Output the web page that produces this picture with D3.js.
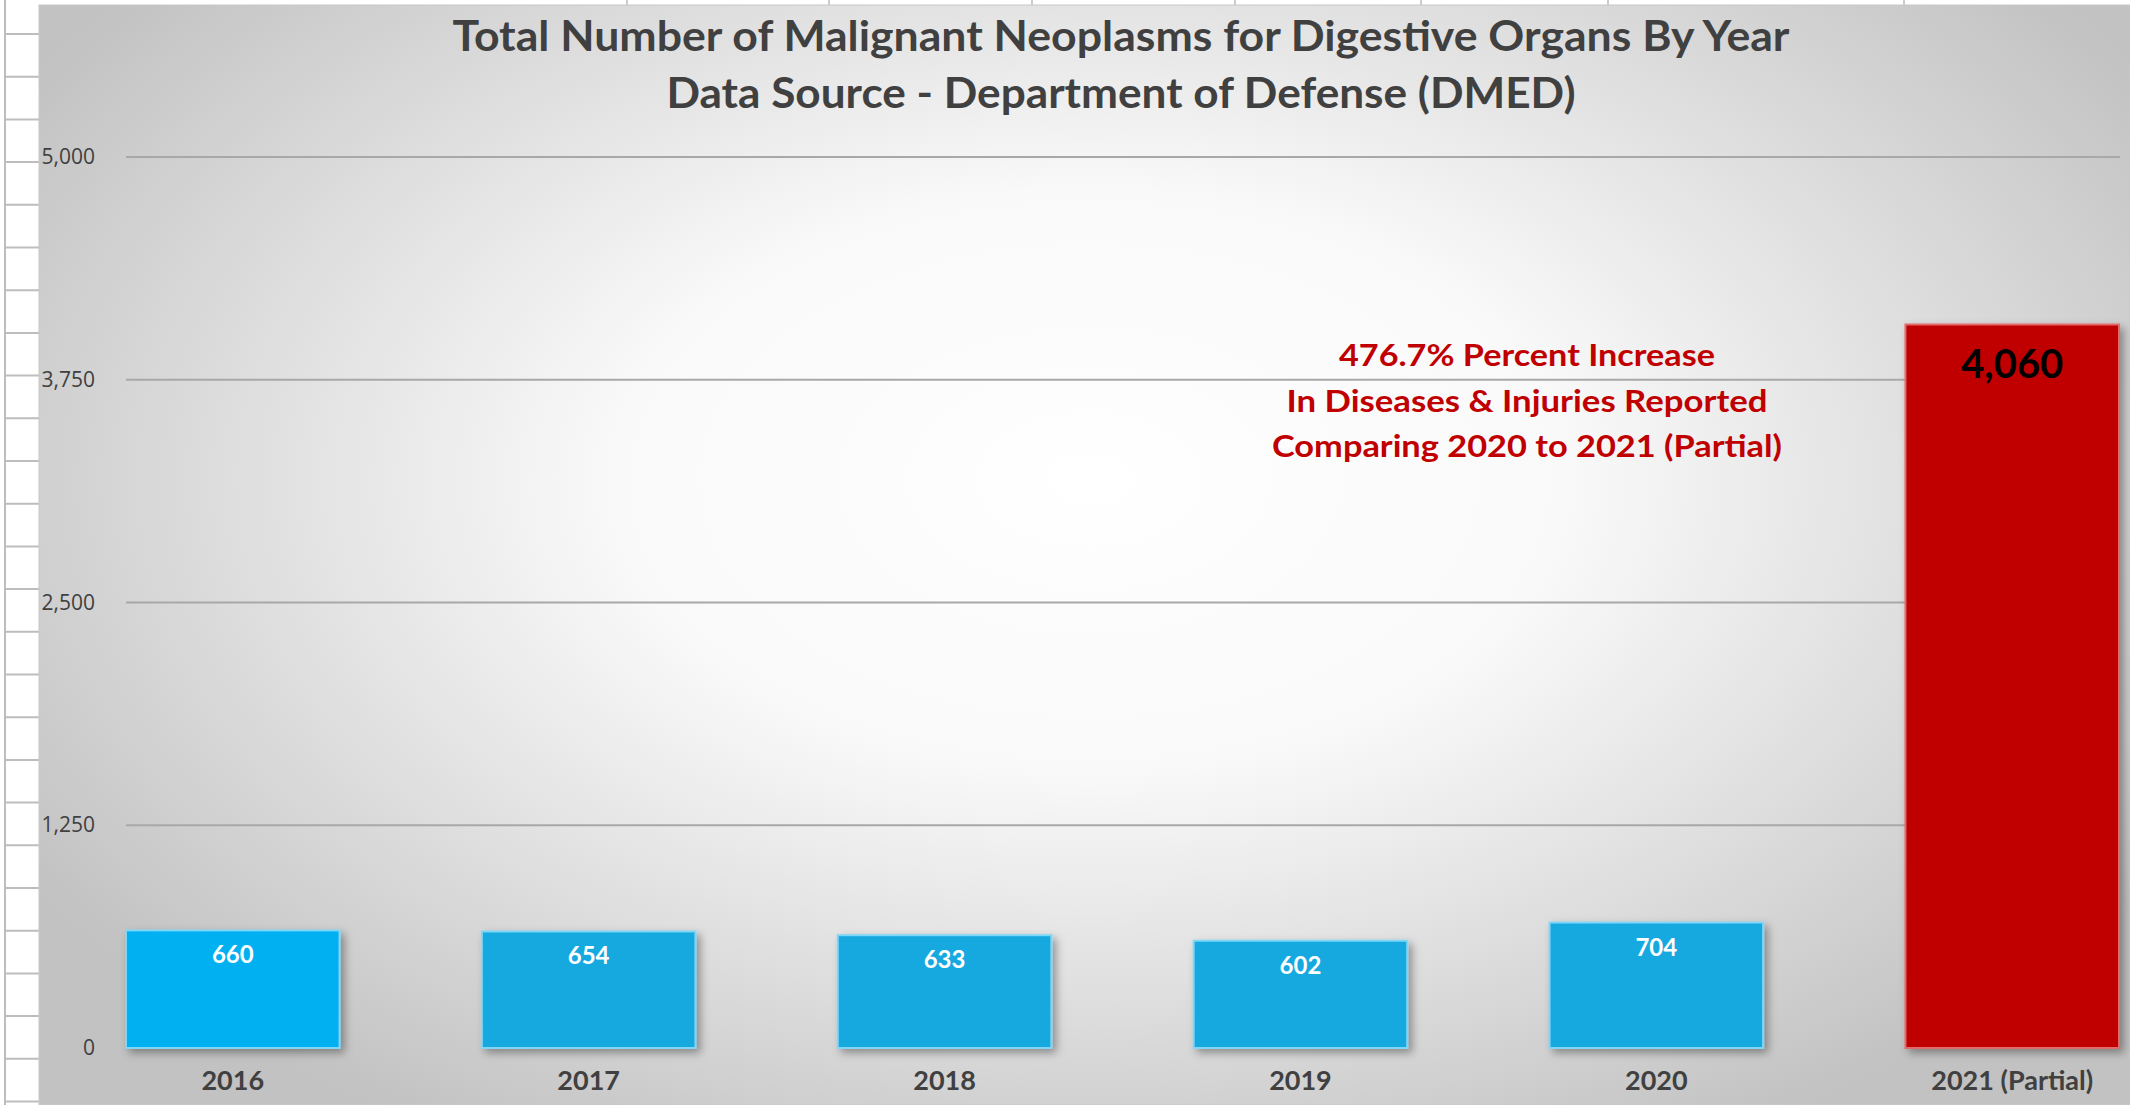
<!DOCTYPE html>
<html lang="en">
<head>
<meta charset="UTF-8">
<title>Malignant Neoplasms for Digestive Organs</title>
<style>
  * { margin: 0; padding: 0; }
  body { background: #fff; overflow: hidden; }
</style>
</head>
<body>
<div id="container"></div>
<script src="https://cdn.jsdelivr.net/npm/d3@7"></script>
<script>
var years = ['2016', '2017', '2018', '2019', '2020', '2021 (Partial)'],
    counts = [660, 654, 633, 602, 704, 4060],
    yTicks = [0, 1250, 2500, 3750, 5000],
    titleLines = ['Total Number of Malignant Neoplasms for Digestive Organs By Year',
                  'Data Source - Department of Defense (DMED)'],
    noteLines = ['476.7% Percent Increase',
                 'In Diseases & Injuries Reported',
                 'Comparing 2020 to 2021 (Partial)']

var W = 2130, H = 1105
var fills = ['#00b0f0', '#17a9e0', '#17a9e0', '#17a9e0', '#17a9e0', '#c00000'],
    strokes = ['#7fd6f6', '#7fd6f6', '#7fd6f6', '#7fd6f6', '#7fd6f6', '#e46a6a']

var svg = d3.select('#container').append('svg')
  .attr('width', W).attr('height', H)
  .style('display', 'block')

var defs = svg.append('defs')
var grad = defs.append('radialGradient')
  .attr('id', 'bg')
  .attr('gradientUnits', 'userSpaceOnUse')
  .attr('cx', 0).attr('cy', 0).attr('r', 1)
  .attr('gradientTransform', 'translate(1090,480) scale(1250,760)')
grad.append('stop').attr('offset', 0).attr('stop-color', '#ffffff')
grad.append('stop').attr('offset', 0.38).attr('stop-color', '#f9f9f9')
grad.append('stop').attr('offset', 1).attr('stop-color', '#c2c2c2')

var shadow = defs.append('filter').attr('id', 'shadow')
  .attr('x', '-10%').attr('y', '-10%').attr('width', '130%').attr('height', '130%')
shadow.append('feDropShadow')
  .attr('dx', 4).attr('dy', 4).attr('stdDeviation', 4)
  .attr('flood-color', '#000').attr('flood-opacity', 0.35)

// spreadsheet bits around the chart
var sheet = svg.append('g').attr('stroke', '#bdbdbd')
sheet.append('line').attr('x1', 5).attr('x2', 5).attr('y1', 0).attr('y2', H).attr('stroke-width', 2)
sheet.selectAll('.row').data(d3.range(34, H, 42.7)).enter().append('line')
  .attr('x1', 5).attr('x2', 40).attr('y1', d => d).attr('y2', d => d).attr('stroke-width', 2)
sheet.selectAll('.col').data([627, 829, 1032, 1235, 1421, 1608, 1904]).enter().append('line')
  .attr('x1', d => d).attr('x2', d => d).attr('y1', 0).attr('y2', 6).attr('stroke-width', 1.5)

// chart area
svg.append('rect')
  .attr('x', 39).attr('y', 5).attr('width', W - 39).attr('height', H - 5)
  .attr('fill', 'url(#bg)')
  .attr('stroke', '#c8c8c8')

var x = d3.scaleBand()
  .domain(years)
  .range([126, 2119])
  .paddingInner(0.4)
  .paddingOuter(0)

var y = d3.scaleLinear()
  .domain([0, 5000])
  .range([1048, 157])

// gridlines
var grid = svg.append('g')
grid.selectAll('line').data(yTicks.filter(d => d > 0)).enter().append('line')
  .attr('x1', 126).attr('x2', 2120)
  .attr('y1', d => y(d)).attr('y2', d => y(d))
  .attr('stroke', '#a8a8a8').attr('stroke-width', 2)

// y axis labels
var yAxis = svg.append('g')
  .attr('transform', 'translate(95,0)')
  .call(d3.axisLeft(y).tickValues(yTicks).tickFormat(d3.format(',')).tickSize(0).tickPadding(0))
yAxis.select('.domain').remove()
yAxis.selectAll('text')
  .attr('font-family', 'Open Sans, sans-serif')
  .attr('font-size', 21)
  .attr('fill', '#404040')

// bars
svg.append('g').selectAll('rect').data(counts).enter().append('rect')
  .attr('x', (d, i) => x(years[i]))
  .attr('y', d => y(d))
  .attr('width', x.bandwidth())
  .attr('height', d => y(0) - y(d))
  .attr('fill', (d, i) => fills[i])
  .attr('stroke', (d, i) => strokes[i])
  .attr('stroke-width', 2)
  .attr('filter', 'url(#shadow)')

// baseline
svg.append('line')
  .attr('x1', 126).attr('x2', 2120)
  .attr('y1', y(0) + 2).attr('y2', y(0) + 2)
  .attr('stroke', '#404040').attr('stroke-width', 4)
  .attr('filter', 'url(#shadow)')

// x axis labels
var xAxis = svg.append('g')
  .attr('transform', 'translate(0,' + y(0) + ')')
  .call(d3.axisBottom(x).tickSize(0).tickPadding(0))
xAxis.select('.domain').remove()
xAxis.selectAll('text')
  .attr('dy', null)
  .attr('y', 42)
  .attr('font-family', 'Lato, sans-serif')
  .attr('font-weight', 'bold')
  .attr('font-size', 27)
  .attr('fill', '#404040')

// value labels
svg.append('g').selectAll('text').data(counts).enter().append('text')
  .attr('x', (d, i) => x(years[i]) + x.bandwidth() / 2)
  .attr('y', (d, i) => y(d) + (i === counts.length - 1 ? 53 : 33))
  .attr('text-anchor', 'middle')
  .attr('font-family', 'Lato, sans-serif')
  .attr('font-weight', 'bold')
  .attr('font-size', (d, i) => i === counts.length - 1 ? 40 : 24)
  .attr('fill', (d, i) => i === counts.length - 1 ? '#000' : '#fff')
  .text(d3.format(','))

// title
svg.append('g').selectAll('text').data(titleLines).enter().append('text')
  .attr('x', 1121)
  .attr('y', (d, i) => [51, 108][i])
  .attr('text-anchor', 'middle')
  .attr('font-family', 'Lato, sans-serif')
  .attr('font-weight', 'bold')
  .attr('font-size', 42)
  .attr('fill', '#404040')
  .attr('textLength', (d, i) => [1337, 909][i])
  .attr('lengthAdjust', 'spacingAndGlyphs')
  .text(d => d)

// annotation
svg.append('g').selectAll('text').data(noteLines).enter().append('text')
  .attr('x', 1527)
  .attr('y', (d, i) => [366, 412, 457][i])
  .attr('text-anchor', 'middle')
  .attr('font-family', 'Lato, sans-serif')
  .attr('font-weight', 'bold')
  .attr('font-size', 30)
  .attr('fill', '#c00000')
  .attr('textLength', (d, i) => [376, 481, 510][i])
  .attr('lengthAdjust', 'spacingAndGlyphs')
  .text(d => d)
</script>
</body>
</html>
